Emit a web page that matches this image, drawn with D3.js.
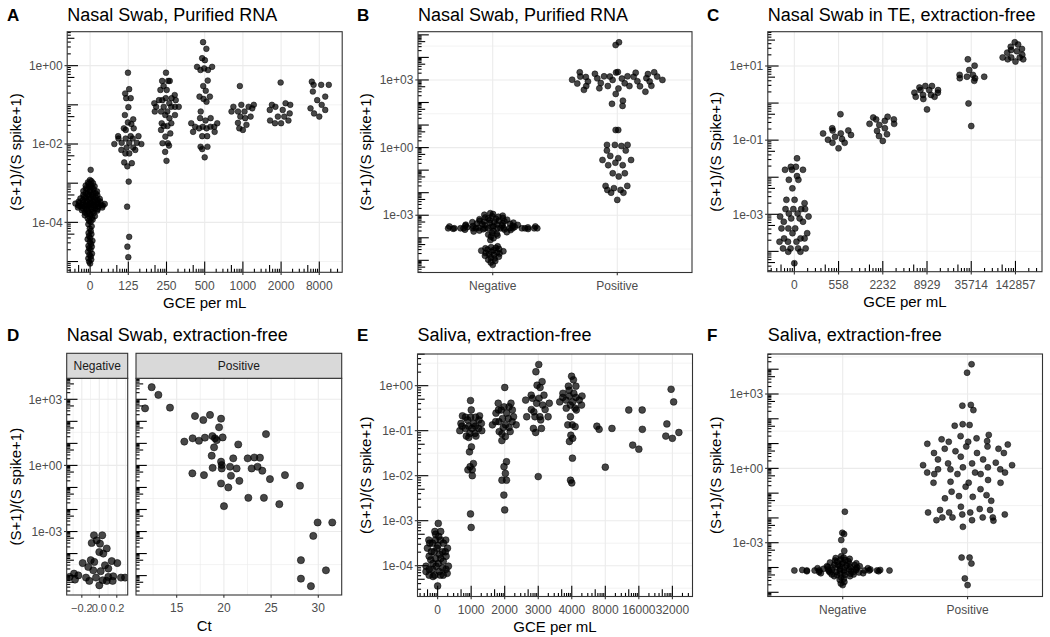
<!DOCTYPE html>
<html><head><meta charset="utf-8">
<script src="https://cdn.jsdelivr.net/npm/d3@7"></script>
<style>body{margin:0;background:#fff}</style>
</head><body>
<script>
// ---------------- DATA (log10 of (S+1)/(S spike+1)) ----------------
// Panel A: Nasal Swab, Purified RNA, by GCE per mL
const A_categories = ["0","125","250","500","1000","2000","8000"];
const A_0 = [-2.66,-2.92,-2.95,-2.98,-3.0,-3.02,-3.05,-3.06,-3.08,-3.1,-3.11,-3.13,-3.15,-3.16,-3.18,-3.2,-3.21,-3.22,-3.24,-3.25,-3.26,-3.28,-3.29,-3.3,-3.31,-3.32,-3.34,-3.35,-3.36,-3.37,-3.38,-3.39,-3.4,-3.41,-3.42,-3.43,-3.44,-3.45,-3.46,-3.47,-3.47,-3.48,-3.49,-3.5,-3.5,-3.51,-3.52,-3.52,-3.53,-3.54,-3.54,-3.55,-3.55,-3.56,-3.56,-3.57,-3.57,-3.58,-3.58,-3.59,-3.6,-3.6,-3.61,-3.62,-3.62,-3.63,-3.64,-3.65,-3.66,-3.67,-3.68,-3.69,-3.7,-3.72,-3.73,-3.75,-3.76,-3.78,-3.8,-3.82,-3.84,-3.86,-3.88,-3.9,-3.93,-3.96,-3.99,-4.05,-4.1,-4.16,-4.22,-4.27,-4.3,-4.35,-4.4,-4.43,-4.47,-4.5,-4.55,-4.6,-4.62,-4.66,-4.7,-4.75,-4.8,-4.83,-4.87,-4.92,-4.95,-5.0,-5.05];
const A_125 = [-0.18,-0.60,-0.71,-0.83,-0.83,-1.06,-1.26,-1.37,-1.45,-1.49,-1.60,-1.60,-1.64,-1.80,-1.80,-1.80,-1.86,-1.86,-1.86,-1.97,-1.97,-1.97,-2.00,-2.00,-2.09,-2.09,-2.15,-2.15,-2.24,-2.24,-2.47,-2.49,-2.57,-2.96,-3.60,-4.37,-4.62,-4.89];
const A_250 = [-0.18,-0.39,-0.39,-0.39,-0.52,-0.62,-0.62,-0.75,-0.83,-0.83,-0.88,-0.88,-0.88,-0.96,-0.96,-1.05,-1.05,-1.05,-1.05,-1.05,-1.17,-1.17,-1.17,-1.26,-1.26,-1.34,-1.47,-1.47,-1.54,-1.54,-1.64,-1.73,-1.81,-1.98,-1.98,-2.04,-2.20,-2.43];
const A_500 = [0.60,0.43,0.19,0.14,-0.03,-0.03,-0.07,-0.11,-0.11,-0.38,-0.52,-0.64,-0.79,-0.79,-0.85,-0.92,-1.17,-1.34,-1.34,-1.40,-1.47,-1.47,-1.56,-1.56,-1.56,-1.56,-1.60,-1.60,-1.69,-1.69,-1.80,-1.80,-2.07,-2.07,-2.13,-2.34];
const A_1000 = [-0.52,-1.0,-1.0,-1.05,-1.05,-1.09,-1.17,-1.17,-1.17,-1.30,-1.30,-1.34,-1.46,-1.51,-1.60,-1.64];
const A_2000 = [-0.43,-0.96,-1.0,-1.0,-1.05,-1.13,-1.13,-1.22,-1.30,-1.30,-1.40,-1.40,-1.47,-1.47];
const A_8000 = [-0.41,-0.49,-0.49,-0.49,-0.66,-0.79,-0.88,-1.0,-1.09,-1.13,-1.22,-1.30];
const A_yTicks = [0,-2,-4];

// Panel B: Nasal Swab, Purified RNA, by clinical status
const B_categories = ["Negative","Positive"];
const B_neg = [-2.91,-2.95,-2.98,-3.02,-3.05,-3.07,-3.1,-3.12,-3.14,-3.16,-3.18,-3.2,-3.22,-3.24,-3.25,-3.27,-3.28,-3.3,-3.31,-3.33,-3.34,-3.36,-3.37,-3.38,-3.4,-3.41,-3.42,-3.43,-3.44,-3.45,-3.46,-3.47,-3.48,-3.49,-3.5,-3.5,-3.51,-3.52,-3.53,-3.54,-3.55,-3.56,
  -3.58,-3.58,-3.58,-3.58,-3.58,-3.58,-3.58,-3.58,-3.58,-3.58,-3.58,-3.58,-3.58,-3.58,-3.58,-3.58,
  -3.6,-3.61,-3.62,-3.63,-3.64,-3.66,-3.68,-3.7,-3.72,-3.75,-3.78,-3.82,-3.86,-3.9,-3.95,-4.02,-4.1,
  -4.38,-4.42,-4.45,-4.47,-4.5,-4.52,-4.55,-4.57,-4.6,-4.62,-4.65,-4.68,-4.7,-4.73,-4.76,-4.8,-4.84,-4.88,-4.92,-4.97,-5.03,-5.1,-5.2];
const B_pos = [4.67,4.55,3.34,3.34,3.33,3.35,3.32,3.27,3.26,3.15,3.15,3.16,3.14,3.15,3.13,3.16,3.07,3.08,3.06,3.0,3.0,3.01,2.93,2.93,2.94,2.85,2.86,2.84,2.73,2.73,2.74,2.72,2.73,2.63,2.62,2.56,2.48,2.38,2.08,1.94,1.85,
  0.78,0.78,0.12,0.12,0.12,0.07,-0.13,-0.13,-0.37,-0.47,-0.55,-0.55,-0.67,-0.78,-0.78,-1.14,-1.14,-1.28,-1.70,-1.70,-1.80,-1.88,-1.88,-2.0,-2.0,-2.32];
const B_yTicks = [3,0,-3];

// Panel C: Nasal Swab in TE, extraction-free
const C_categories = ["0","558","2232","8929","35714","142857"];
const C_0 = [-1.49,-1.72,-1.72,-1.80,-1.80,-1.80,-1.97,-2.07,-2.07,-2.30,-2.61,-2.61,-2.70,-2.86,-2.86,-2.86,-2.86,-2.98,-2.98,-3.06,-3.06,-3.11,-3.11,-3.20,-3.20,-3.38,-3.38,-3.38,-3.51,-3.51,-3.65,-3.65,-3.65,-3.74,-3.74,-3.74,-3.92,-3.92,-3.92,-3.92,-4.01,-4.01,-4.32];
const C_558 = [-0.30,-0.68,-0.74,-0.74,-0.82,-0.82,-0.86,-0.91,-0.97,-0.99,-1.07,-1.07,-1.22];
const C_2232 = [-0.37,-0.39,-0.44,-0.44,-0.48,-0.56,-0.56,-0.59,-0.68,-0.75,-0.84,-0.89,-1.02];
const C_8929 = [0.46,0.46,0.42,0.35,0.35,0.35,0.28,0.28,0.22,0.22,0.17,0.17,0.11,-0.17];
const C_35714 = [1.18,1.01,0.89,0.76,0.76,0.71,0.71,0.67,0.67,0.60,-0.01,-0.62];
const C_142857 = [1.64,1.58,1.52,1.46,1.43,1.40,1.36,1.30,1.23,1.23,1.23,1.18,1.18,1.12];
const C_yTicks = [1,-1,-3];

// Panel D: Nasal Swab, extraction-free (facets Negative / Positive)
const D_negJitter = [-0.061,0.034,-0.030,-0.087,0.008,0.085,0.0,0.046,-0.098,-0.19,-0.057,0.142,0.206,-0.126,0.065,-0.069,0.016,0.103,-0.289,-0.24,-0.152,-0.038,0.103,0.16,0.248,0.294,-0.34,-0.278,-0.114,0.039,0.085,0.153,0.0];
const D_negValue = [-3.17,-3.17,-3.40,-3.52,-3.55,-3.77,-3.93,-4.0,-4.30,-4.43,-4.38,-4.34,-4.43,-4.61,-4.53,-4.76,-4.80,-4.68,-4.91,-4.99,-5.09,-5.09,-5.06,-5.03,-5.09,-5.09,-5.06,-5.18,-5.24,-5.21,-5.24,-5.24,-5.44];
const D_posCt = [12.35,13.06,11.65,14.29,16.94,17.82,18.53,19.70,19.49,15.81,16.69,17.36,17.99,18.78,19.06,19.24,19.87,18.96,18.71,21.52,24.46,20.99,19.70,19.77,18.81,19.77,20.65,21.35,16.66,17.89,20.75,22.52,23.22,23.82,22.94,23.57,24.07,19.70,20.47,21.64,24.88,26.47,28.06,22.59,24.24,25.87,20.01,29.93,31.48,29.47,28.16,30.81,28.16,29.22];
const D_posValue = [3.55,3.20,2.59,2.62,2.24,2.06,2.29,2.12,1.73,1.08,1.23,1.12,1.26,1.33,1.23,1.15,1.27,0.82,0.44,0.95,1.42,0.32,0.17,0.02,-0.11,-0.14,-0.06,-0.14,-0.36,-0.44,-0.47,0.32,0.36,0.35,-0.14,-0.06,-0.24,-0.82,-1.0,-0.70,-0.62,-0.44,-0.92,-1.47,-1.47,-1.76,-1.85,-2.59,-2.59,-3.20,-4.30,-4.76,-5.14,-5.48];
const D_facets = ["Negative","Positive"];
const D_negXTicks = [-0.2,0.0,0.2];
const D_posXTicks = [15,20,25,30];
const D_yTicks = [3,0,-3];

// Panel E: Saliva, extraction-free, by GCE per mL
const E_categories = ["0","1000","2000","3000","4000","8000","16000","32000"];
const E_0 = [-3.06,-3.24,-3.24,-3.30,-3.35,-3.43,-3.43,-3.43,-3.43,-3.50,-3.50,-3.50,-3.55,-3.61,-3.61,-3.61,-3.69,-3.69,-3.69,-3.69,-3.75,-3.79,-3.79,-3.84,-3.84,-3.87,-3.90,-3.95,-3.95,-4.01,-4.01,-4.01,-4.05,-4.08,-4.08,-4.08,-4.13,-4.13,-4.17,-4.21,-4.21,-4.21,-4.21,-4.24,-4.45];
const E_1000 = [-0.33,-0.54,-0.67,-0.67,-0.70,-0.70,-0.70,-0.76,-0.76,-0.84,-0.84,-0.84,-0.90,-0.90,-0.90,-0.95,-0.95,-0.95,-1.00,-1.00,-1.06,-1.06,-1.12,-1.12,-1.15,-1.36,-1.47,-1.73,-1.80,-1.87,-1.87,-2.0,-2.85,-3.15];
const E_2000 = [-0.04,-0.39,-0.39,-0.47,-0.47,-0.54,-0.54,-0.54,-0.61,-0.61,-0.69,-0.73,-0.73,-0.80,-0.80,-0.80,-0.87,-0.87,-0.87,-0.93,-0.93,-1.02,-1.02,-1.07,-1.13,-1.22,-1.69,-1.80,-1.95,-2.10,-2.10,-2.43,-2.76];
const E_3000 = [0.47,0.31,0.09,0.01,-0.04,-0.21,-0.21,-0.28,-0.28,-0.32,-0.39,-0.39,-0.43,-0.53,-0.53,-0.58,-0.69,-0.69,-0.69,-0.69,-0.76,-0.95,-0.95,-1.04,-2.02];
const E_4000 = [0.21,0.13,-0.01,-0.01,-0.10,-0.17,-0.17,-0.23,-0.23,-0.26,-0.26,-0.32,-0.32,-0.36,-0.36,-0.43,-0.43,-0.50,-0.50,-0.54,-0.69,-0.87,-0.87,-0.91,-1.10,-1.17,-1.24,-1.61,-2.10,-2.16];
const E_8000 = [-0.90,-0.97,-0.95,-1.81];
const E_16000 = [-0.54,-0.54,-0.97,-1.32,-1.41];
const E_32000 = [-0.08,-0.36,-0.85,-1.04,-1.12,-1.17];
const E_yTicks = [0,-1,-2,-3,-4];

// Panel F: Saliva, extraction-free, by clinical status
const F_categories = ["Negative","Positive"];
const F_neg = [-1.75,-2.60,-2.65,-2.89,-3.33,-3.55,-3.6,-3.62,-3.65,-3.68,-3.7,-3.72,-3.75,-3.77,-3.8,-3.8,-3.83,-3.85,-3.85,-3.88,-3.9,-3.9,-3.92,-3.95,-3.95,-3.95,-3.98,-3.98,-4.0,-4.0,-4.0,-4.03,-4.03,-4.05,-4.05,-4.05,-4.08,-4.08,-4.08,-4.1,-4.1,-4.1,-4.1,
  -4.12,-4.12,-4.12,-4.12,-4.12,-4.12,-4.12,-4.12,-4.12,-4.12,
  -4.15,-4.15,-4.15,-4.15,-4.18,-4.18,-4.18,-4.2,-4.2,-4.2,-4.23,-4.23,-4.25,-4.25,-4.28,-4.28,-4.3,-4.3,-4.35,-4.35,-4.4,-4.45,-4.5,-4.58,-4.65,-4.71];
const F_pos = [4.20,3.86,2.56,2.53,2.35,1.78,1.72,1.75,1.35,1.30,1.21,1.17,1.10,1.07,1.07,0.99,0.96,0.88,0.88,0.79,0.79,0.69,0.62,0.62,0.62,0.47,0.36,0.36,0.23,0.20,0.20,0.13,0.13,0.04,0.04,-0.04,-0.04,-0.04,-0.17,-0.17,-0.17,-0.23,-0.23,-0.23,-0.47,-0.54,-0.58,-0.58,-0.58,-0.74,-0.84,-0.94,-1.08,-1.12,-1.15,-1.21,-1.31,-1.55,-1.64,-1.68,-1.68,-1.78,-1.78,-1.78,-1.86,-1.86,-1.98,-1.98,-1.98,-1.98,-2.09,-2.09,-2.11,-2.36,-3.60,-3.60,-3.84,-4.44,-4.71];
const F_yTicks = [3,0,-3];

// ---------------- RENDERING ----------------
const FONT = '"Liberation Sans", Arial, Helvetica, sans-serif';
const svg = d3.select("body").append("svg").attr("width",1050).attr("height",637)
  .style("font-family",FONT).style("background","#fff");

const GRID = "#EBEBEB", DARK = "#333333", TXT = "#4D4D4D";
const LT = {short:3.6, mid:7.2, long:10.8};
let clipId = 0;

function fmtE(e){ return "1e" + (e<0?"-":"+") + String(Math.abs(e)).padStart(2,"0"); }
function vdc(k){ let q=0, b=0.5; while(k>0){ q += (k%2)*b; k=Math.floor(k/2); b/=2; } return q; }
function quasiOffsets(vals, adjust){
  const n = vals.length; if(n<2) return vals.map(()=>0);
  const sorted = vals.slice().sort(d3.ascending);
  const sd = d3.deviation(vals) || 0;
  const iqr = d3.quantileSorted(sorted,0.75) - d3.quantileSorted(sorted,0.25);
  let lo = Math.min(sd, iqr/1.34);
  if(!lo) lo = sd || Math.abs(vals[0]) || 1;
  const bw = 0.9*lo*Math.pow(n,-0.2)*adjust;
  const dens = y => d3.sum(vals, v => Math.exp(-0.5*((y-v)/bw)**2));
  const gmin = sorted[0]-3*bw, gmax = sorted[n-1]+3*bw;
  let mx = 0; for(let i=0;i<512;i++){ mx = Math.max(mx, dens(gmin+(gmax-gmin)*i/511)); }
  const order = d3.range(n).sort((a,b)=> vals[a]-vals[b] || a-b);
  const rank = new Array(n); order.forEach((idx,r)=> rank[idx]=r+1);
  return vals.map((v,i)=> (vdc(rank[i])-0.5)*2*Math.min(1, dens(v)/mx));
}

function yMinorsFrom(majors, dom){
  const step = Math.abs(majors[0]-majors[1]);
  const out = [];
  const lo = Math.min(...majors)-step, hi = Math.max(...majors)+step;
  for(let m=lo; m<=hi; m+=step){ const v=m+step/2; if(v>dom[0] && v<dom[1]) out.push(v); }
  return out;
}

function hline(g, x0, x1, yy, color, w){ g.append("line").attr("x1",x0).attr("x2",x1).attr("y1",yy).attr("y2",yy).attr("stroke",color).attr("stroke-width",w); }
function vline(g, xx, y0, y1, color, w){ g.append("line").attr("x1",xx).attr("x2",xx).attr("y1",y0).attr("y2",y1).attr("stroke",color).attr("stroke-width",w); }

function logticksLeft(g, y, x0, dom){
  for(let k=Math.floor(dom[0]); k<=Math.ceil(dom[1]); k++){
    for(let j=1;j<=9;j++){
      const v = k+Math.log10(j); if(v<dom[0]||v>dom[1]) continue;
      const len = j===1?LT.long:(j===5?LT.mid:LT.short);
      g.append("line").attr("x1",x0).attr("x2",x0+len).attr("y1",y(10**v)).attr("y2",y(10**v))
        .attr("stroke","#000").attr("stroke-width",1.1);
    }
  }
}
function logticksBottom(g, xl, y1, lo, hi){
  for(let k=Math.floor(lo); k<=Math.ceil(hi); k++){
    for(let j=1;j<=9;j++){
      const v = k+Math.log10(j); if(v<lo||v>hi) continue;
      const len = j===1?LT.long:(j===5?LT.mid:LT.short);
      g.append("line").attr("x1",xl(v)).attr("x2",xl(v)).attr("y1",y1).attr("y2",y1-len)
        .attr("stroke","#000").attr("stroke-width",1.1);
    }
  }
}
function pointStyle(sel, r){
  sel.attr("r",r).attr("fill","#000").attr("fill-opacity",0.72)
    .attr("stroke","#000").attr("stroke-opacity",0.85).attr("stroke-width",0.6);
}
function clipRect(x0,x1,y0,y1){
  const id = "clip"+(clipId++);
  svg.append("clipPath").attr("id",id).append("rect").attr("x",x0).attr("y",y0).attr("width",x1-x0).attr("height",y1-y0);
  return "url(#"+id+")";
}
function header(letter, title, lx, tx, by){
  svg.append("text").attr("x",lx).attr("y",by).attr("font-size",17).attr("font-weight","bold").attr("fill","#000").text(letter);
  svg.append("text").attr("x",tx).attr("y",by).attr("font-size",18).attr("fill","#000").text(title);
}
function yAxis(g, y, x0, majors, titleText, titleX, yc){
  majors.forEach(e=>{
    const yy = y(10**e);
    hline(g, x0-2.7, x0, yy, DARK, 1.1);
    g.append("text").attr("x",x0-4.6).attr("y",yy).attr("dy","0.35em").attr("text-anchor","end")
      .attr("font-size",12).attr("fill",TXT).text(fmtE(e));
  });
  g.append("text").attr("transform",`translate(${titleX},${yc}) rotate(-90)`).attr("text-anchor","middle")
    .attr("font-size",15).attr("fill","#000").text(titleText);
}

function discretePanel(p){
  const g = svg.append("g");
  const [x0,x1,y0,y1] = p.box;
  const x = d3.scalePoint().domain(p.cats).range([x0,x1]).padding(0.6);
  const step = x.step();
  const n = p.cats.length;
  const xl = d3.scaleLinear().domain([0.4, n+0.6]).range([x0,x1]);
  const y = d3.scaleLog().domain([10**p.yDom[0], 10**p.yDom[1]]).range([y1,y0]);
  g.append("rect").attr("x",x0).attr("y",y0).attr("width",x1-x0).attr("height",y1-y0).attr("fill","#fff");
  yMinorsFrom(p.yTicks, p.yDom).forEach(e=> hline(g, x0, x1, y(10**e), GRID, 0.6));
  p.yTicks.forEach(e=> hline(g, x0, x1, y(10**e), GRID, 1.1));
  p.cats.forEach(c=> vline(g, x(c), y0, y1, GRID, 1.1));
  const pg = g.append("g").attr("clip-path", clipRect(x0,x1,y0,y1));
  p.groups.forEach((vals,i)=>{
    const offs = quasiOffsets(vals, 0.5);
    const cx = x(p.cats[i]);
    pg.selectAll(null).data(vals).enter().append("circle")
      .attr("cx",(v,j)=> cx + offs[j]*0.4*step).attr("cy",v=> y(10**v)).call(pointStyle, p.r);
  });
  logticksLeft(g, y, x0, p.yDom);
  if(p.logX) logticksBottom(g, xl, y1, 0.4, n+0.6);
  g.append("rect").attr("x",x0).attr("y",y0).attr("width",x1-x0).attr("height",y1-y0)
    .attr("fill","none").attr("stroke",DARK).attr("stroke-width",1.1);
  p.cats.forEach(c=>{
    vline(g, x(c), y1, y1+2.7, DARK, 1.1);
    g.append("text").attr("x",x(c)).attr("y",y1+17.3).attr("text-anchor","middle")
      .attr("font-size",12).attr("fill",TXT).text(c);
  });
  yAxis(g, y, x0, p.yTicks, p.yTitle, p.yTitleX, (y0+y1)/2);
  if(p.xTitle) g.append("text").attr("x",(x0+x1)/2).attr("y",y1+35.5).attr("text-anchor","middle")
    .attr("font-size",15).attr("fill","#000").text(p.xTitle);
  header(p.letter, p.title, p.letterX, x0, p.titleY);
}

// A
discretePanel({letter:"A", title:"Nasal Swab, Purified RNA", box:[67.2,342.2,31.7,272.3], yDom:[-5.275,0.867],
  yTicks:A_yTicks, cats:A_categories, groups:[A_0,A_125,A_250,A_500,A_1000,A_2000,A_8000], r:2.85, logX:true,
  xTitle:"GCE per mL", yTitle:"(S+1)/(S spike+1)", yTitleX:20.5, letterX:7, titleY:21});
// B
discretePanel({letter:"B", title:"Nasal Swab, Purified RNA", box:[418,692,31.7,272.5], yDom:[-5.54,5.14],
  yTicks:B_yTicks, cats:B_categories, groups:[B_neg,B_pos], r:3, logX:false,
  xTitle:null, yTitle:"(S+1)/(S spike+1)", yTitleX:370.5, letterX:357, titleY:21});
// C
discretePanel({letter:"C", title:"Nasal Swab in TE, extraction-free", box:[767.8,1042,31.7,271.7], yDom:[-4.548,1.925],
  yTicks:C_yTicks, cats:C_categories, groups:[C_0,C_558,C_2232,C_8929,C_35714,C_142857], r:3, logX:true,
  xTitle:"GCE per mL", yTitle:"(S+1)/(S Spike+1)", yTitleX:720.5, letterX:707, titleY:21});
// E
discretePanel({letter:"E", title:"Saliva, extraction-free", box:[417.5,692.5,354,596.5], yDom:[-4.684,0.704],
  yTicks:E_yTicks, cats:E_categories, groups:[E_0,E_1000,E_2000,E_3000,E_4000,E_8000,E_16000,E_32000], r:3.4, logX:true,
  xTitle:"GCE per mL", yTitle:"(S+1)/(S spike+1)", yTitleX:370.5, letterX:357, titleY:341});
// F
discretePanel({letter:"F", title:"Saliva, extraction-free", box:[767.8,1042.5,354,596.5], yDom:[-5.17,4.614],
  yTicks:F_yTicks, cats:F_categories, groups:[F_neg,F_pos], r:3, logX:false,
  xTitle:null, yTitle:"(S+1)/(S spike+1)", yTitleX:720.5, letterX:707, titleY:341});

// D (faceted continuous panel)
(function(){
  const g = svg.append("g");
  const y0 = 378.3, y1 = 595, sTop = 353.3;
  const yDom = [-5.88, 3.953];
  const y = d3.scaleLog().domain([10**yDom[0], 10**yDom[1]]).range([y1,y0]);
  const facets = [
    {name:D_facets[0], x0:66.7, x1:127.7, xDom:[-0.373,0.325], ticks:D_negXTicks, xs:D_negJitter, vs:D_negValue, fmt:d3.format(".1f"), fs:11},
    {name:D_facets[1], x0:136, x1:341.7, xDom:[10.69,32.48], ticks:D_posXTicks, xs:D_posCt, vs:D_posValue, fmt:d3.format("d"), fs:12}
  ];
  facets.forEach(f=>{
    const x = d3.scaleLinear().domain(f.xDom).range([f.x0,f.x1]);
    g.append("rect").attr("x",f.x0).attr("y",y0).attr("width",f.x1-f.x0).attr("height",y1-y0).attr("fill","#fff");
    yMinorsFrom(D_yTicks, yDom).forEach(e=> hline(g, f.x0, f.x1, y(10**e), GRID, 0.6));
    D_yTicks.forEach(e=> hline(g, f.x0, f.x1, y(10**e), GRID, 1.1));
    const st = f.ticks[1]-f.ticks[0];
    for(let t=f.ticks[0]-st; t<=f.ticks[f.ticks.length-1]+st; t+=st){
      const m = t+st/2; if(m>f.xDom[0] && m<f.xDom[1]) vline(g, x(m), y0, y1, GRID, 0.6);
    }
    f.ticks.forEach(t=> vline(g, x(t), y0, y1, GRID, 1.1));
    const pg = g.append("g").attr("clip-path", clipRect(f.x0,f.x1,y0,y1));
    pg.selectAll(null).data(f.vs).enter().append("circle")
      .attr("cx",(v,j)=> x(f.xs[j])).attr("cy",v=> y(10**v)).call(pointStyle, 3.6);
    logticksLeft(g, y, f.x0, yDom);
    g.append("rect").attr("x",f.x0).attr("y",y0).attr("width",f.x1-f.x0).attr("height",y1-y0)
      .attr("fill","none").attr("stroke",DARK).attr("stroke-width",1.1);
    // strip
    g.append("rect").attr("x",f.x0).attr("y",sTop).attr("width",f.x1-f.x0).attr("height",y0-sTop)
      .attr("fill","#D9D9D9").attr("stroke",DARK).attr("stroke-width",1.1);
    g.append("text").attr("x",(f.x0+f.x1)/2).attr("y",(sTop+y0)/2).attr("dy","0.35em").attr("text-anchor","middle")
      .attr("font-size",12).attr("fill","#1A1A1A").text(f.name);
    f.ticks.forEach(t=>{
      vline(g, x(t), y1, y1+2.7, DARK, 1.1);
      g.append("text").attr("x",x(t)).attr("y",y1+17.3).attr("text-anchor","middle")
        .attr("font-size",f.fs).attr("fill",TXT).text(f.fmt(t));
    });
  });
  yAxis(g, y, 66.7, D_yTicks, "(S+1)/(S spike+1)", 20.5, (y0+y1)/2);
  g.append("text").attr("x",(66.7+341.7)/2).attr("y",y1+35.5).attr("text-anchor","middle")
    .attr("font-size",15).attr("fill","#000").text("Ct");
  header("D", "Nasal Swab, extraction-free", 7, 66.7, 341);
})();
</script>
</body></html>
